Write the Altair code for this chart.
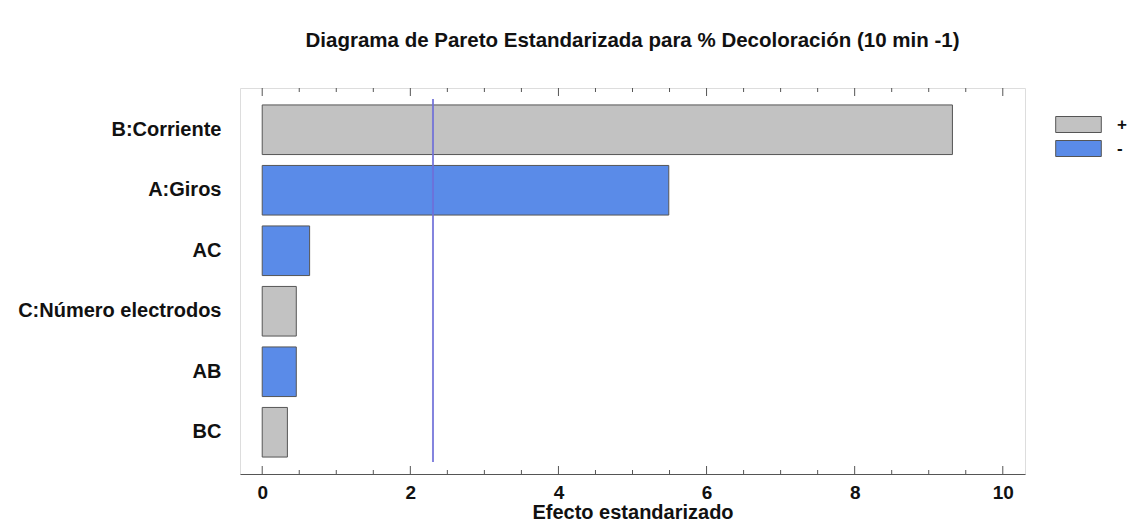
import altair as alt
import pandas as pd

# Data
factors = ["B:Corriente", "A:Giros", "AC", "C:Número electrodos", "AB", "BC"]
effects = [9.32, 5.49, 0.64, 0.46, 0.46, 0.34]
signs = ["+", "-", "-", "+", "-", "+"]
critical_value = [2.306]
major_ticks = [0, 2, 4, 6, 8, 10]
minor_ticks = [0.5, 1, 1.5, 2.5, 3, 3.5, 4.5, 5, 5.5, 6.5, 7, 7.5, 8.5, 9, 9.5]

FONT = "Liberation Sans"
GRAY = "#C2C2C2"
BLUE = "#5A8BE8"

W, H = 785, 386

df = pd.DataFrame({"factor": factors, "effect": effects, "sign": signs})
df_ref = pd.DataFrame({"v": critical_value})
df_major = pd.DataFrame({"v": major_ticks})
df_minor = pd.DataFrame({"v": minor_ticks})

xscale = alt.Scale(domain=[-0.3, 10.3], nice=False, zero=False)

bars = alt.Chart(df).mark_bar(stroke="#555555", strokeWidth=1).encode(
    x=alt.X("effect:Q", scale=xscale,
            axis=alt.Axis(title="Efecto estandarizado", values=major_ticks, ticks=False,
                          format="d",
                          grid=False, domain=True, domainColor="#555555", domainWidth=1,
                          labelFont=FONT, labelFontSize=19, labelFontWeight="bold",
                          labelColor="#111111", labelPadding=9,
                          titleFont=FONT, titleFontSize=20, titleFontWeight="bold",
                          titleColor="#111111", titleBaseline="alphabetic", titleY=44)),
    y=alt.Y("factor:N", sort=factors,
            scale=alt.Scale(paddingInner=0.18, paddingOuter=0.28),
            axis=alt.Axis(title=None, ticks=False, domain=False, grid=False,
                          labelFont=FONT, labelFontSize=20, labelFontWeight="bold",
                          labelColor="#111111", labelPadding=19, labelLimit=0)),
    color=alt.Color("sign:N",
                    scale=alt.Scale(domain=["+", "-"], range=[GRAY, BLUE]),
                    legend=alt.Legend(title=None, orient="none", legendX=830, legendY=28,
                                      padding=0,
                                      symbolType="M-2.85,-1H2.85V1H-2.85Z", symbolSize=256,
                                      symbolStrokeColor="#555555", symbolStrokeWidth=1,
                                      labelFont=FONT, labelFontSize=17, labelFontWeight="bold",
                                      labelColor="#111111", labelOffset=30, rowPadding=3)),
)

ref = alt.Chart(df_ref).mark_rule(color="#6F6FD8", strokeWidth=2, opacity=0.85).encode(
    x=alt.X("v:Q", scale=xscale),
    y=alt.value(11), y2=alt.value(374),
)

bot_major = alt.Chart(df_major).mark_rule(color="#555555", strokeWidth=1).encode(
    x=alt.X("v:Q", scale=xscale), y=alt.value(H), y2=alt.value(H - 8))
bot_minor = alt.Chart(df_minor).mark_rule(color="#555555", strokeWidth=1).encode(
    x=alt.X("v:Q", scale=xscale), y=alt.value(H), y2=alt.value(H - 4))
top_major = alt.Chart(df_major).mark_rule(color="#555555", strokeWidth=1).encode(
    x=alt.X("v:Q", scale=xscale), y=alt.value(0), y2=alt.value(8))
top_minor = alt.Chart(df_minor).mark_rule(color="#555555", strokeWidth=1).encode(
    x=alt.X("v:Q", scale=xscale), y=alt.value(0), y2=alt.value(4))

chart = alt.layer(bars, ref, bot_major, bot_minor, top_major, top_minor).properties(
    width=W, height=H,
    title=alt.TitleParams("Diagrama de Pareto Estandarizada para % Decoloración (10 min -1)",
                          font=FONT, fontSize=20.5, fontWeight="bold", color="#111111",
                          anchor="middle", offset=16, baseline="bottom"),
    autosize=alt.AutoSizeParams(type="none"),
    padding={"left": 232, "top": 80, "right": 103, "bottom": 49},
).configure_view(stroke="#9A9A9A", strokeWidth=2).configure(background="white")

chart.save("out.html", embed_options={"renderer": "svg", "actions": False})
